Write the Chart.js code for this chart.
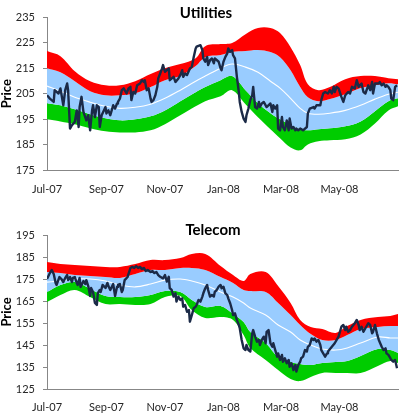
<!DOCTYPE html>
<html>
<head>
<meta charset="utf-8">
<script src="https://cdn.jsdelivr.net/npm/chart.js@4.4.1/dist/chart.umd.min.js"></script>
<style>
  body { margin: 0; background: #fff; }
  .panel { position: relative; width: 400px; }
  .panel canvas { display: block; }
  .title {
    position: absolute;
    font: bold 15px Lato, "Open Sans", sans-serif;
    line-height: 1;
    color: #000;
    white-space: nowrap;
    transform: translate(-50%, -50%);
  }
</style>
</head>
<body>
<div class="panel" style="height:208px">
  <canvas id="utilities" width="400" height="208"></canvas>
  <div class="title" style="left:206px; top:12px">Utilities</div>
</div>
<div class="panel" style="height:209px">
  <canvas id="telecom" width="400" height="209"></canvas>
  <div class="title" style="left:213px; top:21px">Telecom</div>
</div>
<script>
// x axis: days since 1 Jul 2007
const tickLabels = ['Jul-07', 'Sep-07', 'Nov-07', 'Jan-08', 'Mar-08', 'May-08'];
const tickDays = [0, 62, 123, 184, 244, 305];

// Utilities bands (+2sd, +1sd, mean, -1sd, -2sd)
const utilBandDays = [0, 14, 29, 45, 61, 76, 92, 108, 123, 139, 155, 165, 181, 193, 207, 220, 233, 243, 254, 264, 272, 283, 295, 311, 327, 342, 356, 366];
const utilUpper2 = [221.7, 219.7, 213.8, 209.9, 208.3, 208.3, 209.9, 212.7, 215, 216.6, 218.9, 223.6, 224.4, 224.8, 228.3, 230.7, 230.7, 228.7, 223.2, 216.2, 208.7, 206.4, 207.6, 210.7, 211.9, 211.9, 211.1, 210.7];
const utilUpper1 = [215, 213.4, 209.9, 206, 204.4, 204.4, 205.2, 207.6, 210.3, 211.9, 215.8, 219.3, 220.1, 221.3, 221.7, 222.1, 221.3, 219.3, 214.2, 207.6, 203.6, 202.1, 202.9, 204.8, 207.2, 208.3, 209.1, 208.7];
const utilMean = [208, 206, 203.6, 201.7, 200.1, 199.3, 199.7, 200.9, 203.2, 206.4, 209.9, 211.9, 215, 216.6, 215.4, 213.4, 209.9, 207.2, 203.2, 199.3, 197.4, 197, 197.4, 198.5, 200.5, 202.9, 204.8, 205.6];
const utilLower1 = [201.3, 200.5, 198.9, 197, 195.4, 194.6, 195, 196.2, 198.5, 202.1, 205.6, 207.6, 210.3, 211.9, 206.4, 201.3, 197.4, 195, 192.7, 191.1, 190.7, 191.1, 191.5, 192.3, 194.2, 198.2, 202.1, 203.2];
const utilLower2 = [195, 194.2, 193.1, 191.5, 190.3, 189.9, 189.9, 190.7, 193.1, 196.6, 200.1, 202.1, 204, 206.4, 200.9, 195.8, 191.1, 187.6, 184, 182.9, 185.2, 186.4, 186.8, 187.2, 189.1, 193.4, 198.5, 200.1];

// Utilities price
const utilPriceDays = [0, 3, 7, 8, 12, 14, 17, 19, 21, 22, 24, 26, 29, 31, 33, 34, 36, 38, 41, 43, 45, 47, 48, 50, 52, 54, 55, 57, 61, 62, 64, 66, 68, 69, 71, 73, 74, 76, 78, 80, 83, 85, 87, 88, 90, 92, 94, 97, 99, 101, 102, 104, 106, 108, 109, 111, 113, 115, 116, 118, 120, 121, 123, 127, 128, 132, 134, 137, 139, 141, 142, 144, 146, 149, 151, 153, 155, 156, 160, 162, 163, 165, 167, 168, 170, 172, 174, 175, 179, 181, 182, 184, 186, 188, 189, 191, 193, 194, 196, 198, 200, 201, 203, 205, 207, 208, 210, 212, 214, 215, 217, 219, 221, 222, 224, 226, 229, 233, 235, 236, 238, 240, 241, 243, 245, 246, 248, 250, 252, 253, 255, 257, 259, 260, 262, 264, 267, 271, 272, 274, 278, 279, 281, 285, 286, 288, 290, 293, 295, 297, 299, 300, 302, 304, 307, 309, 311, 314, 316, 318, 321, 323, 325, 326, 328, 330, 332, 335, 337, 339, 340, 342, 346, 347, 349, 351, 353, 354, 356, 358, 359, 361, 363, 365];
const utilPrice = [204.4, 203.1, 201.8, 206.4, 205.1, 207.1, 200.5, 206.4, 209, 206.4, 191.4, 192.7, 194, 198.5, 192, 199.8, 203.8, 197.9, 194.6, 196.6, 190.7, 198.5, 200.5, 195.9, 200.5, 199.8, 192, 196.6, 199.8, 197.3, 198.5, 196.6, 199.2, 200.5, 199.2, 201.2, 201.8, 203.1, 206.4, 207.1, 205.1, 207.1, 207.7, 202.5, 205.7, 205.1, 208.3, 209, 210.3, 209.6, 210.3, 206.4, 207.1, 203.1, 201.8, 202.5, 204.4, 207.7, 211, 212.9, 214.9, 216.2, 213.6, 214.9, 210.3, 211.6, 209.6, 211, 212.3, 214.2, 211.6, 212.9, 212.3, 214.9, 215.5, 219.4, 222.7, 223.4, 224, 222.1, 218.8, 217.5, 219.4, 216.2, 218.1, 218.8, 216.9, 218.8, 217.5, 214.9, 214.2, 217.5, 219.4, 220.8, 222.7, 221.4, 222.1, 220.1, 218.8, 211.6, 205.7, 201.8, 197.9, 195.3, 194, 196.6, 199.2, 202.5, 204.4, 207.7, 199.8, 199.2, 201.8, 199.8, 201.2, 201.8, 199.8, 201.2, 197.9, 200.5, 199.2, 200.5, 191.4, 190.7, 195.9, 192, 190.7, 194.6, 190.7, 195.3, 191.4, 192, 190.7, 191.4, 190.7, 191.4, 190.7, 192, 197.3, 199.2, 199.8, 199.2, 200.5, 200.5, 202.5, 205.1, 205.7, 205.1, 206.4, 205.1, 207.7, 205.7, 207.7, 207.1, 203.8, 201.8, 204.4, 205.7, 205.1, 207.7, 207.1, 210.3, 207.7, 208.3, 209, 205.7, 205.1, 208.3, 206.4, 209.6, 205.1, 209, 209, 209.6, 208.3, 209, 207.7, 208.3, 207.7, 206.4, 203.1, 202.5, 207.7, 208.3];

// Telecom bands (+2sd, +1sd, mean, -1sd, -2sd)
const telBandDays = [0, 14, 29, 45, 61, 76, 92, 108, 123, 139, 151, 165, 181, 194, 205, 212, 228, 241, 254, 264, 275, 287, 301, 313, 327, 345, 358, 366];
const telUpper2 = [182.7, 181.8, 181.4, 180.9, 180.5, 180.5, 181.8, 183.6, 183.6, 184.5, 186.4, 186.4, 180.9, 176.8, 174.1, 177.3, 178.2, 171.8, 164.1, 156.4, 153.2, 152.3, 150.5, 153.6, 156.4, 157.7, 158.2, 159.1];
const telUpper1 = [178.2, 177.7, 176.8, 176.4, 175.9, 175.5, 177.3, 179.1, 179.1, 180, 180, 179.1, 175.9, 173.2, 170, 169.5, 169.1, 164.1, 158.6, 154.1, 150, 147.3, 147.3, 149.5, 152.3, 153.2, 153.6, 153.6];
const telMean = [173.6, 174.1, 175, 175, 174.1, 172.3, 171.4, 172.7, 174.5, 175, 174.1, 172.3, 169.1, 166.8, 164.1, 161.8, 158.6, 154.1, 150.9, 147.3, 145, 143.2, 142.7, 143.6, 145.9, 148.6, 148.2, 148.2];
const telLower1 = [169.1, 172.3, 173.6, 170.5, 167.3, 166.8, 166.8, 167.7, 169.5, 169.1, 165.5, 162.3, 162.7, 159.1, 155.5, 150.9, 145.9, 139.5, 137.3, 136.4, 135.9, 136.8, 137.3, 137.7, 140, 143.2, 142.7, 141.4];
const telLower2 = [164.5, 167.7, 170, 166.8, 163.6, 163.6, 163.2, 163.6, 166.8, 167.3, 160.9, 157.3, 157.7, 156.4, 149.5, 143.6, 138.2, 133.6, 129.5, 128.6, 130.5, 132.3, 132.3, 132.3, 132.3, 135.5, 137.7, 136.8];

// Telecom price
const telPriceDays = [0, 3, 5, 7, 9, 10, 13, 15, 17, 19, 21, 22, 24, 26, 27, 29, 31, 32, 34, 35, 38, 40, 41, 43, 45, 46, 48, 50, 52, 53, 55, 56, 58, 61, 63, 64, 66, 68, 69, 71, 73, 74, 76, 78, 79, 81, 84, 85, 87, 89, 91, 93, 95, 97, 99, 101, 103, 105, 108, 110, 112, 114, 116, 118, 121, 123, 125, 127, 128, 130, 132, 134, 135, 137, 139, 141, 142, 144, 146, 148, 149, 151, 153, 155, 156, 158, 160, 162, 163, 165, 167, 168, 170, 172, 174, 175, 177, 179, 181, 182, 184, 186, 188, 189, 191, 193, 194, 196, 198, 200, 201, 203, 205, 207, 208, 210, 212, 214, 215, 217, 219, 221, 222, 224, 226, 228, 229, 231, 233, 235, 236, 238, 240, 241, 243, 245, 246, 248, 250, 252, 253, 255, 257, 259, 260, 262, 264, 265, 267, 269, 271, 272, 274, 276, 278, 279, 281, 283, 285, 286, 288, 290, 292, 293, 297, 300, 304, 307, 309, 311, 312, 314, 316, 318, 321, 323, 325, 326, 328, 330, 332, 335, 337, 339, 340, 342, 344, 346, 349, 351, 353, 354, 356, 358, 359, 361, 363, 365];
const telPrice = [175, 177.7, 179.1, 177.3, 173.2, 172.3, 175.9, 175, 173.6, 175.5, 176.8, 174.5, 175.9, 173.6, 175.5, 175.9, 173.2, 172.3, 175.5, 171.4, 174.1, 172.7, 174.5, 171.8, 167.3, 170.9, 169.1, 164.1, 163.2, 168.6, 170, 169.1, 172.3, 170.9, 173.2, 171.8, 170, 171.8, 172.7, 167.3, 171.4, 172.3, 172.7, 169.1, 170, 174.5, 175.9, 177.3, 180, 180.5, 180, 180.9, 180, 180.5, 179.5, 180, 178.6, 179.1, 178.2, 178.6, 177.7, 178.2, 176.8, 176, 175.3, 176.8, 173.8, 176, 170.8, 170, 167, 168.5, 164.7, 167, 165.5, 166.2, 162.4, 163.2, 160.1, 160.9, 155.6, 158.6, 161.7, 162.4, 163.2, 165.5, 164.7, 167, 168.5, 170.8, 172.3, 170, 167, 167.7, 167, 169.2, 170, 171.5, 172.3, 170.8, 171.5, 168.5, 167.7, 166.2, 164, 160.9, 158.6, 159.4, 156.4, 154.1, 152.6, 147.3, 143.5, 142.7, 145, 142.7, 142, 150.3, 151.8, 148.8, 146.5, 147.3, 145, 147.3, 148.8, 145.8, 151, 151.8, 145.8, 144.2, 145.8, 142.7, 139.7, 141.2, 138.2, 140.5, 137.4, 139, 136.7, 138.2, 135.1, 136.7, 133.6, 135.9, 132.9, 135.9, 137.4, 139, 139.7, 142.7, 142, 144.2, 145, 148, 147.3, 148, 146.5, 147.3, 145, 142.7, 141.2, 139.7, 141.2, 142, 144.2, 145.8, 148.8, 153.3, 154.1, 151.8, 153.3, 151, 151.8, 153.3, 154.9, 156.4, 154.1, 151.8, 153.3, 151, 152.6, 154.9, 154.1, 150.3, 151, 154.1, 150.3, 147.3, 144.2, 142.7, 143.5, 141.2, 140.5, 139, 138.2, 137.4, 138.2, 134.4];

const RED = '#ff0000';
const BLUE = '#99ccff';
const GREEN = '#00cc00';
const NAVY = '#1b2a47';
const AXIS_GREY = '#878787';

Chart.defaults.font.family = 'Lato, "Open Sans", sans-serif';
Chart.defaults.font.size = 11;
Chart.defaults.color = '#262626';

const toPoints = (days, values) => days.map((day, i) => ({x: day, y: values[i]}));

const bandDataset = (days, values, color, target) => ({
  data: toPoints(days, values),
  borderWidth: 0,
  pointRadius: 0,
  tension: 0.35,
  backgroundColor: color,
  fill: target,
  order: 2
});

function drawPanel(canvasId, height, series, yRange, area) {
  return new Chart(document.getElementById(canvasId), {
    type: 'line',
    data: {
      datasets: [
        {data: toPoints(series.priceDays, series.price), borderColor: NAVY, borderWidth: 2.4,
          borderJoinStyle: 'round', pointRadius: 0, tension: 0, fill: false, order: 0},
        {data: toPoints(series.bandDays, series.mean), borderColor: '#ffffff', borderWidth: 1.1,
          pointRadius: 0, tension: 0.35, fill: false, order: 1},
        bandDataset(series.bandDays, series.upper2, RED, 3),
        bandDataset(series.bandDays, series.upper1, BLUE, 4),
        bandDataset(series.bandDays, series.lower1, GREEN, 5),
        bandDataset(series.bandDays, series.lower2, 'rgba(0,0,0,0)', false)
      ]
    },
    options: {
      responsive: false,
      animation: false,
      events: [],
      layout: {padding: {top: area.top, right: 2, bottom: 0, left: 0}},
      plugins: {legend: {display: false}, tooltip: {enabled: false}, title: {display: false}},
      scales: {
        x: {
          type: 'linear',
          min: 0,
          max: 366,
          afterBuildTicks: (scale) => { scale.ticks = tickDays.map(value => ({value})); },
          afterFit: (scale) => { scale.height = height - area.bottom; },
          grid: {display: false, drawTicks: false},
          border: {display: true, color: AXIS_GREY, width: 1},
          ticks: {
            autoSkip: false,
            maxRotation: 0,
            padding: 12,
            callback: (value) => tickLabels[tickDays.indexOf(value)]
          }
        },
        y: {
          min: yRange[0],
          max: yRange[1],
          afterFit: (scale) => { scale.width = 47; },
          grid: {drawOnChartArea: false, drawTicks: true, tickLength: 4, color: AXIS_GREY},
          border: {color: AXIS_GREY, width: 1},
          ticks: {stepSize: 10, padding: 8},
          title: {
            display: true,
            text: 'Price',
            color: '#000',
            padding: 0,
            font: {size: 13, weight: 'bold', lineHeight: 1.1}
          }
        }
      }
    }
  });
}

drawPanel('utilities', 208, {
  bandDays: utilBandDays, upper2: utilUpper2, upper1: utilUpper1, mean: utilMean,
  lower1: utilLower1, lower2: utilLower2, priceDays: utilPriceDays, price: utilPrice
}, [175, 235], {top: 17, bottom: 170.5});

drawPanel('telecom', 209, {
  bandDays: telBandDays, upper2: telUpper2, upper1: telUpper1, mean: telMean,
  lower1: telLower1, lower2: telLower2, priceDays: telPriceDays, price: telPrice
}, [125, 195], {top: 27, bottom: 181});
</script>
</body>
</html>
